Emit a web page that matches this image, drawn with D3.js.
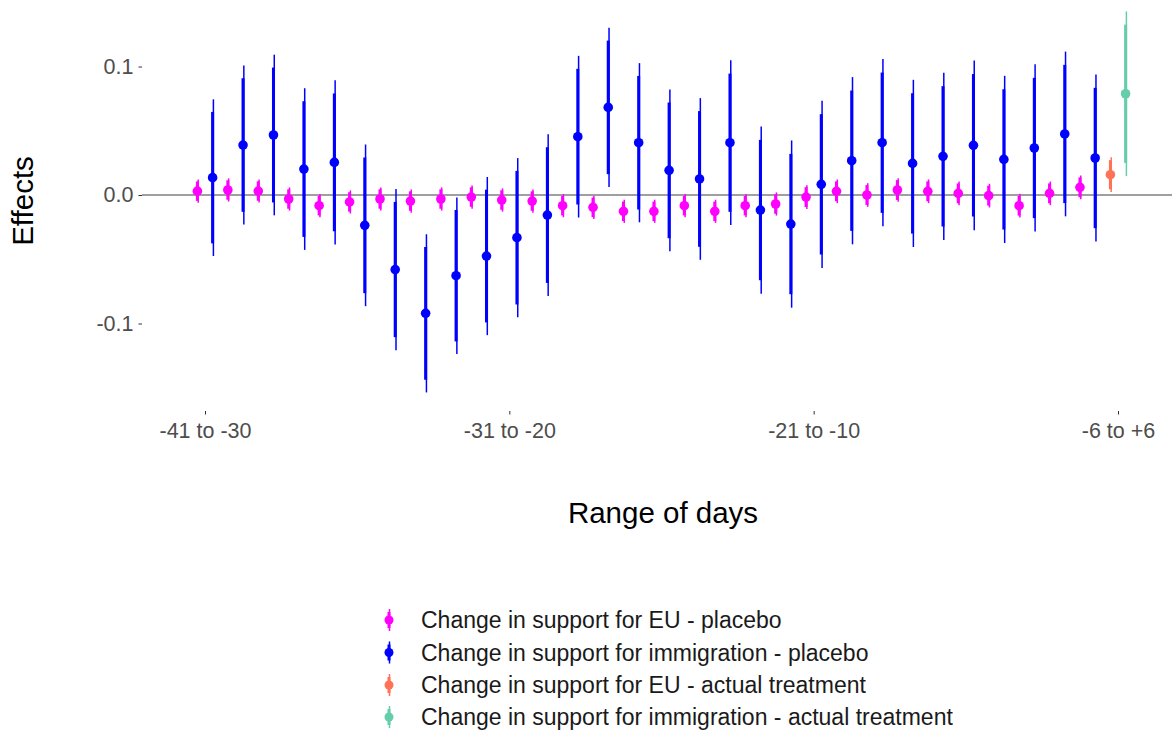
<!DOCTYPE html>
<html>
<head>
<meta charset="utf-8">
<script src="https://cdn.jsdelivr.net/npm/d3@7"></script>
<style>
  html, body { margin: 0; padding: 0; background: #ffffff; }
  svg { display: block; font-family: "Liberation Sans", Arial, sans-serif; }
</style>
</head>
<body>
<svg id="chart" width="1172" height="732"></svg>
<script>
// ---------------- DATA ----------------
const categories = [
  "-41 to -30","-40 to -29","-39 to -28","-38 to -27","-37 to -26","-36 to -25",
  "-35 to -24","-34 to -23","-33 to -22","-32 to -21","-31 to -20","-30 to -19",
  "-29 to -18","-28 to -17","-27 to -16","-26 to -15","-25 to -14","-24 to -13",
  "-23 to -12","-22 to -11","-21 to -10","-20 to -9","-19 to -8","-18 to -7",
  "-17 to -6","-16 to -5","-15 to -4","-14 to -3","-13 to -2","-12 to -1","-6 to +6"
];
const tickLabels = ["-41 to -30","-31 to -20","-21 to -10","-6 to +6"];
const yTicks = [-0.1, 0.0, 0.1];

// Placebo estimates (categories 0..29)
const euPlacebo = [0.0030,0.0039,0.0031,-0.0031,-0.0083,-0.0054,-0.0031,-0.0047,-0.0031,-0.0016,
                   -0.0039,-0.0047,-0.0083,-0.0096,-0.0127,-0.0127,-0.0083,-0.0127,-0.0083,-0.0070,
                   -0.0016,0.0029,0.0000,0.0039,0.0029,0.0013,-0.0005,-0.0083,0.0013,0.0060];
const euPlaceboSE = [0.0046,0.0046,0.0046,0.0046,0.0046,0.0046,0.0046,0.0046,0.0046,0.0046,
                     0.0046,0.0046,0.0046,0.0046,0.0046,0.0046,0.0046,0.0046,0.0046,0.0046,
                     0.0047,0.0047,0.0047,0.0047,0.0047,0.0047,0.0047,0.0047,0.0047,0.0047];
const immPlacebo = [0.0135,0.0389,0.0467,0.0202,0.0254,-0.0236,-0.0580,-0.0921,-0.0628,-0.0475,
                    -0.0332,-0.0156,0.0454,0.0682,0.0407,0.0192,0.0125,0.0407,-0.0117,-0.0226,
                    0.0083,0.0267,0.0407,0.0246,0.0301,0.0387,0.0277,0.0366,0.0475,0.0288];
const immPlaceboSE = [0.0311,0.0316,0.0319,0.0321,0.0326,0.0321,0.0320,0.0314,0.0311,0.0314,
                      0.0316,0.0321,0.0321,0.0316,0.0316,0.0321,0.0321,0.0327,0.0332,0.0332,
                      0.0332,0.0332,0.0332,0.0332,0.0332,0.0337,0.0332,0.0332,0.0327,0.0332];
// Actual treatment (category 30)
const euActual = [0.0158];
const euActualSE = [0.0069];
const immActual = [0.0788];
const immActualSE = [0.0327];

const seriesNames = [
  "Change in support for EU - placebo",
  "Change in support for immigration - placebo",
  "Change in support for EU - actual treatment",
  "Change in support for immigration - actual treatment"
];
const seriesColors = ["#FF00FF", "#0000FF", "#FF7256", "#66CDAA"];
const outcomes = ["EU", "immigration"];

// ---------------- BUILD ROWS ----------------
const rows = [];
euPlacebo.forEach((v, i) => rows.push({cat: categories[i], outcome: "EU", series: 0, est: v, se: euPlaceboSE[i]}));
immPlacebo.forEach((v, i) => rows.push({cat: categories[i], outcome: "immigration", series: 1, est: v, se: immPlaceboSE[i]}));
euActual.forEach((v, i) => rows.push({cat: categories[30], outcome: "EU", series: 2, est: v, se: euActualSE[i]}));
immActual.forEach((v, i) => rows.push({cat: categories[30], outcome: "immigration", series: 3, est: v, se: immActualSE[i]}));

// ---------------- LAYOUT ----------------
const svg = d3.select("#chart");
const panel = {left: 142, right: 1172, top: 5, bottom: 411};

const x = d3.scalePoint().domain(categories).range([205, 1118]);
const dodge = d3.scalePoint().domain(outcomes).range([-7.6, 7.6]);
const y = d3.scaleLinear().domain([-0.16, 0.145]).range([400.6, 8.7]);

const textGrey = "#4D4D4D";
const fontFam = "'Liberation Sans', Arial, sans-serif";

// zero line
svg.append("line")
  .attr("x1", panel.left).attr("x2", panel.right)
  .attr("y1", y(0)).attr("y2", y(0))
  .attr("stroke", "#7f7f7f").attr("stroke-width", 1.3);

// y axis
const yAxis = svg.append("g")
  .attr("transform", `translate(${panel.left},0)`)
  .call(d3.axisLeft(y).tickValues(yTicks).tickSize(3.5).tickPadding(5)
        .tickFormat(d3.format(".1f")));
yAxis.select(".domain").remove();
yAxis.selectAll(".tick line").attr("stroke", "#333333").attr("stroke-width", 1);
yAxis.selectAll(".tick text").attr("fill", textGrey).style("font-size", "21.5px")
  .style("font-family", fontFam)
  .text(d => d3.format(".1f")(d).replace("\u2212", "-"));

// x axis
const xAxis = svg.append("g")
  .attr("transform", `translate(0,${panel.bottom})`)
  .call(d3.axisBottom(x).tickValues(tickLabels).tickSize(3.5).tickPadding(8));
xAxis.select(".domain").remove();
xAxis.selectAll(".tick line").attr("stroke", "#333333").attr("stroke-width", 1);
xAxis.selectAll(".tick text").attr("fill", textGrey).style("font-size", "21.5px")
  .style("font-family", fontFam);

// ---------------- MARKS ----------------
const z95 = 1.96, z90 = 1.645;
const g = svg.append("g");
const marks = g.selectAll("g.pr").data(rows).join("g").attr("class", "pr")
  .attr("transform", d => `translate(${x(d.cat) + dodge(d.outcome)},0)`);

marks.append("line")
  .attr("x1", 0.8).attr("x2", 0.8)
  .attr("y1", d => y(d.est + z95 * d.se)).attr("y2", d => y(d.est - z95 * d.se))
  .attr("stroke", d => seriesColors[d.series]).attr("stroke-width", 1.5);
marks.append("line")
  .attr("x1", 0).attr("x2", 0)
  .attr("y1", d => y(d.est + z90 * d.se)).attr("y2", d => y(d.est - z90 * d.se))
  .attr("stroke", d => seriesColors[d.series]).attr("stroke-width", 3);
marks.append("circle")
  .attr("cx", 0).attr("cy", d => y(d.est)).attr("r", 4.8)
  .attr("fill", d => seriesColors[d.series]);

// ---------------- TITLES ----------------
svg.append("text")
  .attr("x", 663).attr("y", 523)
  .attr("text-anchor", "middle")
  .style("font-size", "29.5px").attr("fill", "#000")
  .text("Range of days");

svg.append("text")
  .attr("transform", "translate(33,201) rotate(-90)")
  .attr("text-anchor", "middle")
  .style("font-size", "29.5px").attr("fill", "#000")
  .text("Effects");

// ---------------- LEGEND ----------------
const legendY = [620, 652.5, 685, 717];
const leg = svg.append("g").selectAll("g").data(seriesNames).join("g")
  .attr("transform", (d, i) => `translate(389,${legendY[i]})`);
leg.append("line").attr("x1", 0.5).attr("x2", 0.5).attr("y1", -11).attr("y2", 11)
  .attr("stroke", (d, i) => seriesColors[i]).attr("stroke-width", 1.5);
leg.append("line").attr("x1", 0).attr("x2", 0).attr("y1", -8).attr("y2", 8)
  .attr("stroke", (d, i) => seriesColors[i]).attr("stroke-width", 3);
leg.append("circle").attr("r", 4.5).attr("fill", (d, i) => seriesColors[i]);
leg.append("text").attr("x", 32).attr("y", 0).attr("dy", "0.35em")
  .style("font-size", "23px").attr("fill", "#1a1a1a")
  .text(d => d);
</script>
</body>
</html>
